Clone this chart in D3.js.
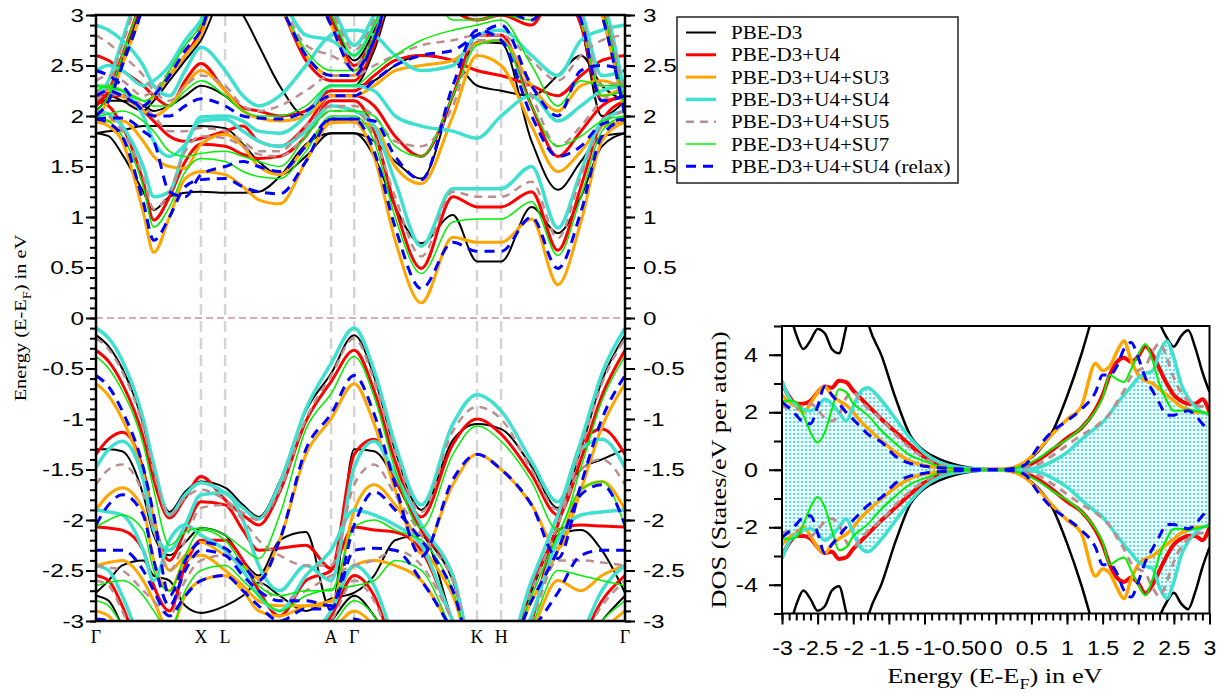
<!DOCTYPE html>
<html>
<head>
<meta charset="utf-8">
<script src="https://cdn.jsdelivr.net/npm/d3@7/dist/d3.min.js"></script>
<style>
  html, body { margin: 0; padding: 0; background: #fff; }
  svg { display: block; }
</style>
</head>
<body>
<svg id="chart" width="1225" height="698"></svg>
<script>
// ---------------- band structure: k-path ----------------
const kNodes = [0, 0.12, 0.25, 0.45, 0.55, 0.70, 0.85, 1.00, 1.23, 1.40, 1.55, 1.75, 2.00, 2.24,
                2.46, 2.65, 2.85, 3.10, 3.40, 3.63, 3.86, 4.15, 4.40, 4.62, 4.82, 5.04];
const kLabels = ["Γ", "X", "L", "A", "Γ", "K", "H", "Γ"];
const kLabelPos = [0, 1.00, 1.23, 2.24, 2.46, 3.63, 3.86, 5.04];

const energyTicks = [-3, -2.5, -2, -1.5, -1, -0.5, 0, 0.5, 1, 1.5, 2, 2.5, 3];
const energyTickLabels = ["-3", "-2.5", "-2", "-1.5", "-1", "-0.5", "0", "0.5", "1", "1.5", "2", "2.5", "3"];

const seriesNames = ["PBE-D3", "PBE-D3+U4", "PBE-D3+U4+SU3", "PBE-D3+U4+SU4",
                     "PBE-D3+U4+SU5", "PBE-D3+U4+SU7", "PBE-D3+U4+SU4 (relax)"];

// band energies (eV, relative to E_F) at each k node
const bandsPBE = [
  [-2.75,-2.8,-3.05,-3.5,-3.6,-3.6,-3.4,-3.3,-3.3,-3.4,-3.5,-3.4,-3.2,-3.0,-2.75,-2.95,-3.3,-3.6,-3.6,-3.6,-3.6,-3.6,-3.5,-3.3,-3.0,-2.75],
  [-2.72,-2.6,-2.45,-2.4,-2.55,-2.6,-2.85,-2.92,-2.85,-2.75,-2.62,-2.75,-2.9,-2.78,-2.72,-2.55,-2.2,-2.15,-3.0,-3.5,-3.5,-3.0,-2.15,-2.1,-2.3,-2.72],
  [-1.30,-1.3,-1.32,-1.75,-2.15,-2.35,-2.22,-2.08,-2.15,-2.4,-2.55,-2.2,-2.12,-2.9,-1.30,-1.32,-1.6,-2.1,-2.6,-3.4,-3.4,-2.7,-2.05,-1.5,-1.4,-1.30],
  [-0.17,-0.28,-0.5,-1.05,-1.5,-1.92,-1.72,-1.62,-1.68,-1.85,-1.97,-1.62,-0.92,-0.55,-0.17,-0.58,-1.31,-1.90,-1.21,-1.05,-1.10,-1.47,-1.88,-1.3,-0.62,-0.17],
  [1.83,1.8,1.62,1.25,1.07,1.2,1.24,1.25,1.24,1.24,1.25,1.4,1.72,1.83,1.83,1.6,1.1,0.74,1.02,0.56,0.56,1.1,0.84,1.2,1.7,1.83],
  [1.83,1.85,1.86,1.9,1.9,1.9,1.9,1.9,1.88,1.72,1.55,1.42,1.6,1.83,1.83,1.75,1.55,1.38,2.2,2.73,2.72,1.75,1.27,1.55,1.8,1.83],
  [2.15,2.15,2.15,2.1,2.05,2.1,2.2,2.3,2.2,2.05,1.98,1.95,2.0,2.3,2.3,2.35,2.5,2.6,2.55,2.3,2.25,2.2,2.4,2.6,2.3,2.15],
  [2.15,2.2,2.15,2.05,2.15,2.35,2.55,2.75,3.2,3.0,2.7,2.3,2.0,2.3,2.3,2.65,3.25,3.4,3.2,3.1,3.1,3.0,3.3,2.9,2.0,2.15],
  [2.05,2.2,2.55,3.15,3.5,3.6,3.6,3.6,3.6,3.6,3.6,3.6,3.4,3.0,2.55,2.85,3.4,3.6,3.6,3.6,3.6,3.6,3.6,3.5,3.1,2.05]
];
const bandsU4 = [
  [-2.55,-2.6,-2.85,-3.4,-3.6,-3.6,-3.4,-3.3,-3.3,-3.4,-3.5,-3.4,-3.2,-2.95,-2.55,-2.75,-3.3,-3.6,-3.6,-3.6,-3.6,-3.6,-3.5,-3.2,-2.8,-2.55],
  [-2.07,-2.08,-2.1,-2.3,-2.65,-2.9,-2.45,-2.2,-2.2,-2.4,-2.7,-2.95,-2.6,-2.5,-2.07,-2.1,-2.12,-2.3,-3.0,-3.5,-3.5,-3.0,-2.1,-2.05,-2.06,-2.07],
  [-1.35,-1.2,-1.13,-1.5,-2.0,-2.4,-2.1,-1.82,-1.85,-2.1,-2.3,-2.28,-2.25,-2.48,-1.35,-1.2,-1.6,-2.1,-2.55,-3.4,-3.4,-2.65,-2.05,-1.25,-1.1,-1.35],
  [-0.32,-0.43,-0.65,-1.18,-1.6,-1.98,-1.78,-1.57,-1.80,-1.95,-2.05,-1.72,-1.02,-0.63,-0.32,-0.72,-1.42,-1.97,-1.25,-1.00,-1.15,-1.55,-1.95,-1.4,-0.77,-0.32],
  [2.15,2.1,1.9,1.35,0.97,1.2,1.55,1.72,1.7,1.62,1.58,1.6,1.8,2.15,2.15,1.85,1.1,0.49,1.2,1.1,1.1,1.25,0.67,1.3,1.95,2.15],
  [2.2,2.2,2.2,2.05,1.95,1.8,1.75,1.78,1.85,1.9,1.75,1.7,1.9,2.2,2.2,2.1,1.8,1.6,2.2,2.8,2.8,2.1,1.6,1.85,2.1,2.2],
  [2.6,2.55,2.45,2.3,2.2,2.1,2.35,2.52,2.25,2.08,2.05,2.0,2.05,2.25,2.25,2.4,2.55,2.6,2.55,2.45,2.4,2.3,2.2,2.4,2.55,2.6],
  [2.2,2.25,2.2,2.1,2.2,2.4,2.6,2.85,3.5,3.5,3.4,3.1,2.55,2.35,2.35,2.7,3.3,3.4,3.05,2.95,3.0,2.9,3.3,2.9,2.15,2.2],
  [2.1,2.25,2.6,3.2,3.5,3.6,3.6,3.6,3.6,3.6,3.6,3.6,3.4,2.95,2.5,2.8,3.4,3.6,3.6,3.6,3.6,3.6,3.6,3.5,3.05,2.1]
];
const bandsSU3 = [
  [-2.9,-2.95,-3.15,-3.5,-3.6,-3.6,-3.4,-3.3,-3.3,-3.4,-3.5,-3.4,-3.2,-3.1,-2.9,-3.05,-3.4,-3.6,-3.6,-3.6,-3.6,-3.6,-3.5,-3.35,-3.1,-2.9],
  [-2.45,-2.42,-2.4,-2.6,-2.8,-3.1,-2.75,-2.6,-2.55,-2.7,-2.9,-2.95,-2.85,-2.8,-2.45,-2.4,-2.45,-2.6,-3.1,-3.5,-3.5,-3.1,-2.6,-2.7,-2.55,-2.45],
  [-1.9,-1.75,-1.68,-1.9,-2.4,-2.7,-2.4,-2.35,-2.5,-2.65,-2.8,-2.85,-2.85,-2.85,-1.9,-1.65,-1.85,-2.25,-2.75,-3.4,-3.4,-2.8,-2.3,-1.7,-1.62,-1.9],
  [-0.65,-0.77,-1.0,-1.55,-2.0,-2.5,-2.35,-2.22,-2.35,-2.45,-2.58,-2.2,-1.35,-1.0,-0.65,-1.05,-1.7,-2.33,-1.65,-1.35,-1.5,-1.85,-2.28,-1.7,-1.08,-0.65],
  [1.94,1.9,1.75,1.05,0.65,1.0,1.38,1.45,1.42,1.3,1.17,1.13,1.55,1.93,1.94,1.6,0.77,0.15,0.8,0.75,0.75,0.98,0.33,0.95,1.75,1.94],
  [1.94,1.95,1.95,1.75,1.6,1.5,1.48,1.72,1.82,1.7,1.5,1.42,1.7,1.95,1.94,1.9,1.5,1.33,2.0,2.6,2.5,1.9,1.45,1.65,1.9,1.94],
  [2.25,2.25,2.2,2.05,2.0,2.1,2.3,2.45,2.25,2.05,1.98,1.95,2.0,2.2,2.2,2.3,2.45,2.5,2.55,2.72,2.75,2.3,2.05,2.3,2.35,2.25],
  [2.3,2.3,2.25,2.1,2.2,2.4,2.6,2.8,3.5,3.5,3.4,3.1,2.6,2.4,2.4,2.75,3.3,3.4,3.1,3.05,3.1,3.0,3.3,2.95,2.2,2.3],
  [2.0,2.15,2.5,3.1,3.5,3.6,3.6,3.6,3.6,3.6,3.6,3.6,3.4,2.9,2.45,2.75,3.4,3.6,3.6,3.6,3.6,3.6,3.6,3.5,3.0,2.0]
];
const bandsSU4 = [
  [-2.45,-2.5,-2.75,-3.3,-3.6,-3.6,-3.4,-3.3,-3.3,-3.4,-3.5,-3.4,-3.2,-2.9,-2.45,-2.65,-3.2,-3.6,-3.6,-3.6,-3.6,-3.6,-3.5,-3.15,-2.7,-2.45],
  [-1.9,-1.92,-1.95,-2.3,-2.6,-2.2,-2.05,-2.15,-2.3,-2.5,-2.75,-2.9,-2.55,-2.3,-1.9,-1.95,-2.05,-2.25,-3.0,-3.5,-3.5,-2.95,-2.2,-1.95,-1.92,-1.9],
  [-1.48,-1.3,-1.22,-1.6,-2.1,-2.3,-2.05,-1.75,-1.73,-2.0,-2.45,-2.7,-2.45,-2.6,-1.48,-1.22,-1.55,-2.05,-2.55,-3.4,-3.4,-2.6,-1.95,-1.3,-1.2,-1.48],
  [-0.10,-0.2,-0.42,-1.0,-1.45,-1.95,-1.75,-1.63,-1.73,-1.88,-1.99,-1.64,-0.90,-0.45,-0.10,-0.52,-1.25,-1.85,-1.05,-0.76,-0.92,-1.42,-1.82,-1.22,-0.55,-0.10],
  [2.05,2.02,1.9,1.5,1.2,1.25,1.7,1.95,1.97,1.85,1.75,1.7,1.85,2.1,2.05,1.9,1.35,0.71,1.28,1.28,1.28,1.5,0.89,1.45,1.95,2.05],
  [2.3,2.28,2.25,2.0,1.75,1.6,1.72,1.99,2.0,1.95,1.85,1.83,2.0,2.3,2.3,2.25,2.0,1.9,1.85,1.78,2.0,2.2,1.95,2.1,2.25,2.3],
  [2.9,2.85,2.75,2.5,2.3,2.2,2.45,2.68,2.45,2.2,2.1,2.2,2.5,2.8,2.85,2.8,2.6,2.45,2.5,2.8,2.85,2.6,2.4,2.75,2.85,2.9],
  [2.45,2.5,2.45,2.3,2.35,2.5,2.75,2.95,3.5,3.5,3.45,3.2,2.8,2.75,2.6,2.9,3.3,3.4,3.2,3.2,3.2,3.0,3.3,3.05,2.4,2.45],
  [2.2,2.35,2.75,3.35,3.5,3.6,3.6,3.6,3.6,3.6,3.6,3.6,3.4,3.1,2.7,3.0,3.4,3.6,3.6,3.6,3.6,3.6,3.6,3.5,3.2,2.2]
];
const bandsSU5 = [
  [-2.6,-2.65,-2.9,-3.4,-3.6,-3.6,-3.4,-3.3,-3.3,-3.4,-3.5,-3.4,-3.2,-3.0,-2.6,-2.8,-3.3,-3.6,-3.6,-3.6,-3.6,-3.6,-3.5,-3.2,-2.85,-2.6],
  [-2.45,-2.47,-2.5,-2.7,-2.8,-2.95,-2.6,-2.4,-2.35,-2.45,-2.6,-2.8,-2.7,-2.55,-2.45,-2.4,-2.3,-2.45,-3.0,-3.5,-3.5,-3.0,-2.4,-2.4,-2.42,-2.45],
  [-1.65,-1.5,-1.45,-1.75,-2.1,-2.5,-2.2,-1.88,-1.85,-2.0,-2.2,-2.35,-2.45,-2.45,-1.65,-1.45,-1.75,-2.15,-2.6,-3.4,-3.4,-2.7,-2.05,-1.5,-1.4,-1.65],
  [-0.20,-0.31,-0.53,-1.08,-1.52,-1.95,-1.78,-1.70,-1.80,-1.93,-2.00,-1.70,-1.00,-0.57,-0.20,-0.62,-1.33,-1.92,-1.12,-0.88,-1.00,-1.50,-1.90,-1.3,-0.65,-0.20],
  [2.05,2.0,1.85,1.4,1.08,1.25,1.65,1.8,1.78,1.7,1.62,1.6,1.8,2.05,2.05,1.8,1.2,0.61,1.25,1.2,1.2,1.35,0.79,1.4,1.9,2.05],
  [2.25,2.22,2.2,2.1,2.0,1.85,1.85,1.88,1.85,1.75,1.65,1.65,1.9,2.1,2.1,2.0,1.75,1.7,2.1,2.75,2.75,2.2,1.7,1.9,2.15,2.25],
  [2.8,2.72,2.6,2.4,2.25,2.15,2.3,2.4,2.3,2.1,2.05,2.1,2.25,2.4,2.4,2.5,2.6,2.7,2.75,2.8,2.8,2.55,2.35,2.6,2.75,2.8],
  [2.35,2.4,2.35,2.2,2.25,2.45,2.7,2.9,3.5,3.5,3.4,3.15,2.7,2.6,2.5,2.8,3.3,3.4,3.15,3.1,3.15,3.0,3.3,3.0,2.3,2.35],
  [2.15,2.3,2.7,3.3,3.5,3.6,3.6,3.6,3.6,3.6,3.6,3.6,3.4,3.05,2.65,2.95,3.4,3.6,3.6,3.6,3.6,3.6,3.6,3.5,3.15,2.15]
];
const bandsSU7 = [
  [-2.8,-2.85,-3.05,-3.45,-3.6,-3.6,-3.4,-3.3,-3.3,-3.4,-3.5,-3.4,-3.2,-3.05,-2.8,-2.95,-3.35,-3.6,-3.6,-3.6,-3.6,-3.6,-3.5,-3.3,-3.0,-2.8],
  [-2.65,-2.62,-2.6,-2.75,-2.9,-3.1,-2.7,-2.5,-2.45,-2.6,-2.75,-2.9,-2.75,-2.68,-2.65,-2.6,-2.4,-2.5,-3.1,-3.5,-3.5,-3.05,-2.5,-2.55,-2.6,-2.65],
  [-2.07,-2.0,-1.95,-2.1,-2.5,-2.7,-2.35,-2.1,-2.2,-2.45,-2.65,-2.75,-2.7,-2.7,-2.07,-2.0,-2.1,-2.2,-2.7,-3.4,-3.4,-2.75,-2.15,-1.7,-1.62,-2.07],
  [-0.38,-0.5,-0.72,-1.25,-1.7,-2.25,-2.12,-2.08,-2.15,-2.28,-2.38,-1.95,-1.1,-0.75,-0.38,-0.78,-1.5,-2.08,-1.35,-1.07,-1.22,-1.62,-2.1,-1.48,-0.82,-0.38],
  [2.0,1.95,1.8,1.3,0.9,1.1,1.45,1.58,1.55,1.45,1.4,1.38,1.65,2.0,2.0,1.75,1.0,0.44,0.95,0.98,0.98,1.15,0.62,1.2,1.85,2.0],
  [2.0,2.02,2.05,1.95,1.85,1.65,1.6,1.63,1.65,1.6,1.55,1.5,1.8,2.05,2.05,2.0,1.7,1.6,2.2,2.7,2.75,2.1,1.7,1.8,1.95,2.0],
  [2.3,2.28,2.25,2.15,2.1,2.1,2.25,2.35,2.2,2.05,2.0,2.0,2.1,2.3,2.3,2.45,2.6,2.75,2.85,2.9,2.95,2.5,2.1,2.35,2.3,2.3],
  [2.25,2.3,2.25,2.15,2.2,2.45,2.7,2.9,3.5,3.5,3.4,3.1,2.65,2.45,2.45,2.8,3.3,3.4,2.95,2.95,3.0,2.95,3.3,2.95,2.2,2.25],
  [2.05,2.2,2.6,3.2,3.5,3.6,3.6,3.6,3.6,3.6,3.6,3.6,3.4,3.0,2.6,2.9,3.4,3.6,3.6,3.6,3.6,3.6,3.6,3.5,3.1,2.05]
];
const bandsRelax = [
  [-2.98,-3.0,-3.2,-3.5,-3.6,-3.6,-3.4,-3.3,-3.3,-3.4,-3.5,-3.4,-3.2,-3.1,-2.98,-3.1,-3.4,-3.6,-3.6,-3.6,-3.6,-3.6,-3.5,-3.35,-3.15,-2.98],
  [-2.3,-2.3,-2.3,-2.5,-2.7,-2.95,-2.75,-2.6,-2.55,-2.7,-2.85,-3.0,-2.88,-2.88,-2.3,-2.28,-2.3,-2.6,-3.1,-3.5,-3.5,-3.1,-2.72,-2.35,-2.3,-2.3],
  [-2.05,-1.85,-1.75,-1.95,-2.4,-2.85,-2.5,-2.3,-2.35,-2.55,-2.7,-2.8,-2.8,-2.85,-2.05,-1.72,-1.9,-2.2,-2.7,-3.4,-3.4,-2.8,-2.3,-1.75,-1.65,-2.05],
  [-0.57,-0.68,-0.92,-1.48,-1.95,-2.75,-2.4,-2.22,-2.28,-2.45,-2.6,-2.2,-1.3,-0.95,-0.57,-0.95,-1.65,-2.36,-1.6,-1.35,-1.5,-1.85,-2.38,-1.65,-1.0,-0.57],
  [1.97,1.93,1.8,1.15,0.77,1.0,1.3,1.37,1.38,1.3,1.25,1.23,1.55,1.97,1.97,1.65,0.9,0.29,0.75,0.66,0.66,1.0,0.49,1.05,1.8,1.97],
  [1.97,1.98,1.98,1.85,1.75,1.25,1.2,1.42,1.5,1.55,1.5,1.45,1.7,1.97,1.97,1.95,1.6,1.37,2.3,2.85,2.75,2.0,1.6,1.7,1.92,1.97],
  [2.45,2.4,2.3,2.05,2.0,2.0,2.1,2.17,2.1,2.0,1.98,1.97,2.05,2.2,2.2,2.35,2.5,2.6,2.65,2.8,2.9,2.3,2.0,2.45,2.5,2.45],
  [2.2,2.25,2.2,2.1,2.2,2.4,2.65,2.85,3.5,3.5,3.4,3.1,2.6,2.4,2.4,2.75,3.3,3.4,3.1,3.0,3.05,2.95,3.3,2.95,2.15,2.2],
  [2.0,2.15,2.5,3.1,3.5,3.6,3.6,3.6,3.6,3.6,3.6,3.6,3.4,2.9,2.45,2.75,3.4,3.6,3.6,3.6,3.6,3.6,3.6,3.5,3.0,2.0]
];

// ---------------- density of states ----------------
const dosEnergy = [-3,-2.9,-2.8,-2.7,-2.6,-2.5,-2.4,-2.3,-2.2,-2.1,-2.0,-1.9,-1.8,-1.6,-1.4,-1.2,-1.0,-0.8,-0.6,-0.4,-0.2,0,
                   0.2,0.4,0.6,0.8,1.0,1.2,1.4,1.5,1.6,1.7,1.8,1.9,2.0,2.1,2.2,2.3,2.4,2.5,2.6,2.7,2.8,2.9,3.0];
const dosPBE   = [6.0,5.5,4.7,4.2,4.5,4.9,4.75,4.2,4.05,4.95,6.0,6.5,5.2,3.95,2.45,1.2,0.65,0.38,0.2,0.09,0.03,0,
                  0.04,0.25,0.65,1.35,2.55,4.0,5.7,6.5,7,7,7,7,7,6.5,5.8,5.1,4.6,4.28,4.65,4.85,4.25,3.4,2.7];
const dosU4    = [3.0,2.55,2.3,2.3,2.4,2.7,2.9,2.85,3.1,3.05,2.75,2.5,2.25,1.75,1.3,0.85,0.45,0.2,0.08,0.03,0.01,0,
                  0.02,0.1,0.35,0.7,1.1,1.45,2.1,2.6,3.3,3.75,3.9,3.75,3.95,4.3,4.0,3.5,3.0,2.6,2.4,2.3,2.3,2.45,2.0];
const dosSU3   = [2.6,2.35,2.2,2.0,2.3,2.7,2.9,2.6,2.4,2.25,2.0,1.7,1.45,1.0,0.6,0.3,0.15,0.08,0.04,0.02,0.01,0,
                  0.05,0.25,0.7,1.25,1.75,2.2,3.7,3.45,3.6,4.1,4.48,3.8,3.3,3.1,3.0,2.8,2.6,2.4,2.2,2.1,2.0,2.0,1.9];
const dosSU4   = [3.1,2.5,2.25,2.1,2.05,2.2,2.45,2.3,2.0,1.7,2.2,2.7,2.85,2.4,1.75,1.1,0.58,0.27,0.12,0.05,0.02,0,
                  0.01,0.03,0.08,0.3,0.6,1.05,1.45,1.65,1.95,2.3,2.6,2.9,3.2,3.35,3.44,4.1,4.47,3.9,3.0,2.5,2.2,2.0,1.93];
const dosSU5   = [2.2,2.15,2.1,2.25,2.3,2.1,1.8,1.7,1.9,2.5,2.7,2.4,2.15,1.75,1.2,0.75,0.4,0.17,0.07,0.03,0.01,0,
                  0.02,0.08,0.2,0.5,0.85,1.2,1.5,1.7,1.95,2.35,2.75,3.25,3.45,3.6,4.1,4.4,3.9,3.2,2.7,2.4,2.25,2.2,2.2];
const dosSU7   = [2.4,2.4,2.35,1.9,1.3,0.95,1.3,2.1,2.8,2.7,2.3,2.1,1.9,1.35,0.9,0.5,0.3,0.12,0.05,0.02,0.01,0,
                  0.03,0.15,0.4,0.75,1.05,1.45,2.05,2.5,3.3,3.15,3.05,3.5,4.0,4.37,3.8,2.97,2.4,2.05,2.05,2.1,2.05,2.0,1.95];
const dosRelax = [2.35,2.15,1.9,1.65,1.6,2.2,2.9,2.6,2.3,2.0,1.75,1.5,1.25,0.95,0.45,0.22,0.12,0.07,0.04,0.02,0.01,0,
                  0.03,0.15,0.8,1.35,1.7,2.1,2.7,3.3,3.3,3.6,4.2,4.43,3.9,3.2,2.75,2.3,1.9,1.9,2.0,2.05,1.9,1.6,1.35];

const dosTicks = [-3,-2.5,-2,-1.5,-1,-0.5,0,0.5,1,1.5,2,2.5,3];
const dosTickLabels = ["-3","-2.5","-2","-1.5","-1","-0.50","0","0.5","1","1.5","2","2.5","3"];
const dosYTicks = [-4,-2,0,2,4];
const dosYTickLabels = ["-4","-2","0","2","4"];

// ---------------- styles ----------------
const bandSets = [bandsPBE, bandsU4, bandsSU3, bandsSU4, bandsSU5, bandsSU7, bandsRelax];
const dosSets  = [dosPBE, dosU4, dosSU3, dosSU4, dosSU5, dosSU7, dosRelax];
const styles = [
  { color: "#000000", w: 2,   dw: 2.5, dash: null },
  { color: "#ff0000", w: 3,   dw: 4,   dash: null },
  { color: "#ffa500", w: 3,   dw: 3.5, dash: null },
  { color: "#40e0d0", w: 3.5, dw: 3.5, dash: null },
  { color: "#bc8f8f", w: 2.5, dw: 3,   dash: "8,6" },
  { color: "#00f000", w: 1.5, dw: 2,   dash: null },
  { color: "#0000ff", w: 3,   dw: 3,   dash: "10,7" }
];
const sansFont = "'Liberation Sans', Arial, Helvetica, sans-serif";
const serifFont = "'Liberation Serif', 'Times New Roman', serif";

const svg = d3.select("#chart");
const defs = svg.append("defs");

// ================= band-structure panel =================
const bx = d3.scaleLinear().domain([0, 5.04]).range([96, 625]);
const by = d3.scaleLinear().domain([-3, 3]).range([621, 15]);

defs.append("clipPath").attr("id", "bandClip")
  .append("rect").attr("x", bx(0)).attr("y", by(3))
  .attr("width", bx(5.04) - bx(0)).attr("height", by(-3) - by(3));

const band = svg.append("g");

// high-symmetry guide lines
band.append("g").selectAll("line")
  .data(kLabelPos.slice(1, -1))
  .join("line")
  .attr("x1", d => bx(d)).attr("x2", d => bx(d))
  .attr("y1", by(3)).attr("y2", by(-3))
  .attr("stroke", "#d4d4d4").attr("stroke-width", 2.5)
  .attr("stroke-dasharray", "11,6");

// Fermi level
band.append("line")
  .attr("x1", bx(0)).attr("x2", bx(5.04))
  .attr("y1", by(0)).attr("y2", by(0))
  .attr("stroke", "#c09898").attr("stroke-width", 1.5)
  .attr("stroke-dasharray", "7,4");

const bandLine = d3.line()
  .x((d, i) => bx(kNodes[i]))
  .y(d => by(d))
  .curve(d3.curveMonotoneX);

const bandLayer = band.append("g").attr("clip-path", "url(#bandClip)");
bandSets.forEach((set, s) => {
  const st = styles[s];
  bandLayer.append("g").selectAll("path")
    .data(set)
    .join("path")
    .attr("d", bandLine)
    .attr("fill", "none")
    .attr("stroke", st.color)
    .attr("stroke-width", st.w)
    .attr("stroke-linejoin", "round")
    .attr("stroke-dasharray", st.dash);
});

// axes: minor ticks every 0.1 eV, labelled major ticks every 0.5 eV
const minorE = d3.range(-30, 31).map(i => i / 10);
function energyAxis(axisFn, side) {
  const g = band.append("g").attr("transform", `translate(${side === "left" ? bx(0) : bx(5.04)},0)`);
  g.append("g").call(axisFn(by).tickValues(minorE).tickSize(6).tickSizeOuter(0).tickFormat(""));
  const maj = g.append("g").call(axisFn(by).tickValues(energyTicks).tickSize(10).tickSizeOuter(0)
    .tickFormat((d, i) => energyTickLabels[i]));
  g.selectAll(".domain").remove();
  g.selectAll(".tick line").attr("stroke", "#000").attr("stroke-width", 2);
  maj.selectAll(".tick text")
    .attr("font-family", sansFont).attr("font-size", 19).attr("fill", "#000")
    .attr("x", side === "left" ? -12 / 1.28 : 18 / 1.28)
    .attr("transform", "scale(1.28,1)");
}
energyAxis(d3.axisLeft, "left");
energyAxis(d3.axisRight, "right");

band.append("rect")
  .attr("x", bx(0)).attr("y", by(3))
  .attr("width", bx(5.04) - bx(0)).attr("height", by(-3) - by(3))
  .attr("fill", "none").attr("stroke", "#000").attr("stroke-width", 2.5);

band.append("g").selectAll("text")
  .data(kLabels)
  .join("text")
  .attr("x", (d, i) => bx(kLabelPos[i]))
  .attr("y", 643)
  .attr("text-anchor", "middle")
  .attr("font-family", serifFont).attr("font-size", 18)
  .text(d => d);

// axis title with subscript F
function energyTitle(parent, transform, size, subSize) {
  const t = parent.append("text")
    .attr("transform", transform)
    .attr("text-anchor", "middle")
    .attr("font-family", serifFont).attr("font-size", size);
  t.append("tspan").text("Energy (E-E");
  t.append("tspan").attr("font-size", subSize).attr("dy", size * 0.28).text("F");
  t.append("tspan").attr("dy", -size * 0.28).text(") in eV");
  return t;
}
energyTitle(svg, "translate(26,318) rotate(-90) scale(1.2,1)", 17, 12);

// legend
const legend = svg.append("g");
legend.append("rect")
  .attr("x", 677).attr("y", 17).attr("width", 281).attr("height", 166)
  .attr("fill", "#fff").attr("stroke", "#222").attr("stroke-width", 1.5);
seriesNames.forEach((name, i) => {
  const st = styles[i];
  const yy = 32.5 + i * 22.3;
  legend.append("line")
    .attr("x1", 686).attr("x2", 716).attr("y1", yy).attr("y2", yy)
    .attr("stroke", st.color).attr("stroke-width", st.w)
    .attr("stroke-dasharray", st.dash);
  legend.append("text")
    .attr("transform", `translate(731,${yy + 6.5}) scale(1.17,1)`)
    .attr("font-family", serifFont).attr("font-size", 18)
    .text(name);
});

// ================= DOS panel =================
const dx = d3.scaleLinear().domain([-3, 3]).range([782, 1209.5]);
const dy = d3.scaleLinear().domain([-5, 5]).range([613.5, 326]);

defs.append("clipPath").attr("id", "dosClip")
  .append("rect").attr("x", dx(-3)).attr("y", dy(5))
  .attr("width", dx(3) - dx(-3)).attr("height", dy(-5) - dy(5));

const dots = defs.append("pattern").attr("id", "cyanDots")
  .attr("patternUnits", "userSpaceOnUse").attr("width", 4).attr("height", 4);
dots.append("rect").attr("width", 4).attr("height", 4).attr("fill", "#f2fefe");
dots.append("circle").attr("cx", 2).attr("cy", 2).attr("r", 1.05).attr("fill", "#19dff0");

const dos = svg.append("g");
const dosLayer = dos.append("g").attr("clip-path", "url(#dosClip)");

// shaded SU4 density (spin-up above, spin-down mirrored below)
dosLayer.append("path")
  .datum(dosSU4)
  .attr("d", d3.area()
    .x((d, i) => dx(dosEnergy[i]))
    .y0(d => dy(-d))
    .y1(d => dy(d))
    .curve(d3.curveMonotoneX))
  .attr("fill", "url(#cyanDots)");

dosSets.forEach((set, s) => {
  const st = styles[s];
  [1, -1].forEach(sign => {
    dosLayer.append("path")
      .datum(set)
      .attr("d", d3.line()
        .x((d, i) => dx(dosEnergy[i]))
        .y(d => dy(sign * d))
        .curve(d3.curveMonotoneX))
      .attr("fill", "none")
      .attr("stroke", st.color)
      .attr("stroke-width", st.dw)
      .attr("stroke-linejoin", "round")
      .attr("stroke-dasharray", st.dash);
  });
});

// DOS axes
const dLeft = dos.append("g").attr("transform", `translate(${dx(-3)},0)`);
dLeft.append("g").call(d3.axisLeft(dy).tickValues(d3.range(-5, 6)).tickSize(8).tickSizeOuter(0).tickFormat(""));
const dLeftMaj = dLeft.append("g").call(d3.axisLeft(dy).tickValues(dosYTicks).tickSize(13).tickSizeOuter(0)
  .tickFormat((d, i) => dosYTickLabels[i]));
dLeft.selectAll(".domain").remove();
dLeft.selectAll(".tick line").attr("stroke", "#000").attr("stroke-width", 2);
dLeftMaj.selectAll(".tick text")
  .attr("font-family", sansFont).attr("font-size", 21).attr("fill", "#000")
  .attr("x", -24 / 1.2).attr("transform", "scale(1.2,1)");

const dBottom = dos.append("g").attr("transform", `translate(0,${dy(-5)})`);
dBottom.append("g").call(d3.axisBottom(dx).tickValues(d3.range(-30, 31).map(i => i / 10)).tickSize(7).tickSizeOuter(0).tickFormat(""));
const dBotMaj = dBottom.append("g").call(d3.axisBottom(dx).tickValues(dosTicks).tickSize(11).tickSizeOuter(0)
  .tickFormat((d, i) => dosTickLabels[i]));
dBottom.selectAll(".domain").remove();
dBottom.selectAll(".tick line").attr("stroke", "#000").attr("stroke-width", 2);
dBotMaj.selectAll(".tick text")
  .attr("font-family", sansFont).attr("font-size", 21).attr("fill", "#000")
  .attr("y", 41.5).attr("dy", 0).attr("x", 0).attr("transform", "scale(1.1,1)");

dos.append("rect")
  .attr("x", dx(-3)).attr("y", dy(5))
  .attr("width", dx(3) - dx(-3)).attr("height", dy(-5) - dy(5))
  .attr("fill", "none").attr("stroke", "#000").attr("stroke-width", 2);

energyTitle(svg, "translate(995,683) scale(1.2,1)", 22, 15);

svg.append("text")
  .attr("transform", "translate(726,470) rotate(-90) scale(1.2,1)")
  .attr("text-anchor", "middle")
  .attr("font-family", serifFont).attr("font-size", 22)
  .text("DOS (States/eV per atom)");
</script>
</body>
</html>
